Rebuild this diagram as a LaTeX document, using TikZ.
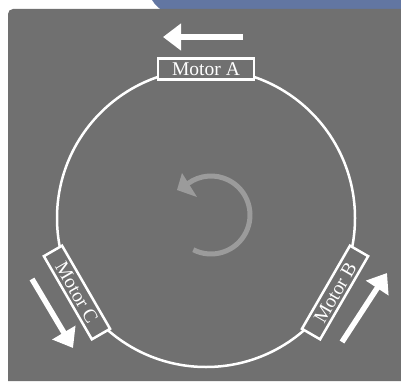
\documentclass[tikz,border=0pt]{standalone}
\usepackage{fontspec}
\setmainfont{Liberation Serif}
\usetikzlibrary{arrows.meta}
\definecolor{bgray}{RGB}{112,112,112}
\definecolor{bblue}{RGB}{98,118,162}
\definecolor{rotgray}{RGB}{155,155,155}
\begin{document}
\begin{tikzpicture}[x=1pt,y=1pt,
  motor/.style={draw=white, line width=2.5pt, fill=bgray, text=white, minimum width=96pt, minimum height=21pt, inner sep=0pt, font=\fontsize{19.5}{20}\selectfont, text height=13pt, text depth=0pt},
  bigarrow/.style={white, line width=5.5pt, -{Triangle[width=26pt,length=18pt]}},
  ring/.style={white, line width=2.5pt},
  rotarrow/.style={rotgray, line width=5pt}]
\useasboundingbox (0,0) rectangle (401,381);
\fill[white] (0,0) rectangle (401,381);
\fill[bblue] (152,381) .. controls (156,375) and (159,371) .. (170,368) -- (401,368) -- (401,381) -- cycle;
\fill[bgray] (8,0) -- (8,367) arc[start angle=180,end angle=90,radius=5] -- (401,372) -- (401,0) -- cycle;
\coordinate (c) at (206,163);
\draw[ring] (c) circle[radius=149];
\node[motor] (A) at ([shift={(90:149)}]c) {Motor A};
\node[motor, rotate=-60] (C) at ([shift={(210:149)}]c) {Motor C};
\node[motor, rotate=60] (B) at ([shift={(330:149)}]c) {Motor B};
\coordinate (aS) at (243,344);
\coordinate (aE) at (163,344);
\draw[bigarrow] (aS) -- (aE);
\coordinate (cS) at (32,102);
\coordinate (cE) at (73,33);
\draw[bigarrow] (cS) -- (cE);
\coordinate (bS) at (342,39);
\coordinate (bE) at (387,108);
\draw[bigarrow] (bS) -- (bE);
\coordinate (r) at (211,166);
\draw[rotarrow] ([shift={(-117:39)}]r) arc[start angle=-117, end angle=126, radius=39];
\fill[rotgray] (177,191) -- (182,208) -- (197,184) -- cycle;
\end{tikzpicture}
\end{document}
